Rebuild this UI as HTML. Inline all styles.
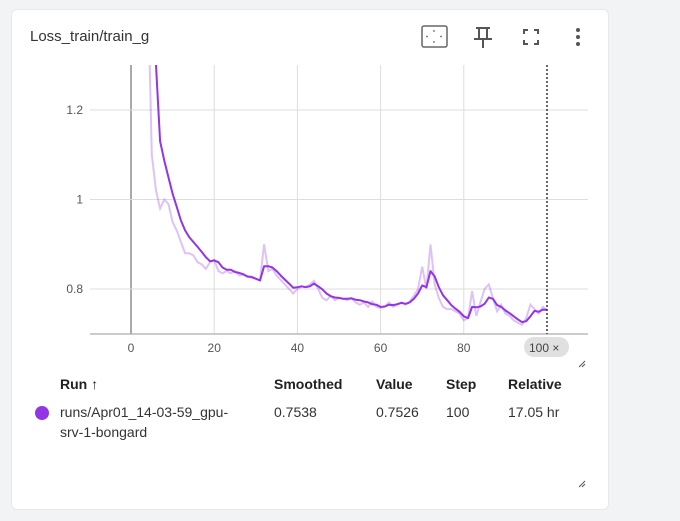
<!DOCTYPE html>
<html><head><meta charset="utf-8"><style>
body{margin:0;width:680px;height:521px;background:#f1f3f4;font-family:"Liberation Sans",sans-serif;position:relative;overflow:hidden}
.card{position:absolute;left:11px;top:9px;width:596px;height:499px;background:#fff;border-radius:6px;border:1px solid #e6e8ea}
.t{position:absolute;font-size:14px;color:#212121}
.h{position:absolute;font-size:14px;font-weight:bold;color:#212121;top:376px}
.c{position:absolute;font-size:14px;color:#333;top:404px}
</style></head><body>
<div class="card"></div>
<div class="t" style="left:30px;top:28px;font-size:15px;color:#333">Loss_train/train_g</div>
<svg style="position:absolute;left:0;top:0" width="680" height="521">
<g><rect x="422" y="26" width="25" height="21" fill="none" stroke="#666" stroke-width="1.5" rx="2"/><circle cx="434" cy="31" r="0.9" fill="#666"/><circle cx="434" cy="42" r="0.9" fill="#666"/><circle cx="427" cy="36.5" r="0.9" fill="#666"/><circle cx="441" cy="36.5" r="0.9" fill="#666"/></g>
<g stroke="#555" stroke-width="2" fill="none"><path d="M476 28h14M479 28v10M487 28v10M474 39h18M483 39v9"/></g>
<g stroke="#555" stroke-width="2" fill="none"><path d="M524 34v-4h4M534 30h4v4M538 40v4h-4M528 44h-4v-4"/></g>
<g fill="#555"><circle cx="578" cy="30" r="2"/><circle cx="578" cy="37" r="2"/><circle cx="578" cy="44" r="2"/></g>
</svg>
<svg id="chart" style="position:absolute;left:0;top:0" width="680" height="521"></svg>
<div class="h" style="left:60px">Run ↑</div>
<div class="h" style="left:274px">Smoothed</div>
<div class="h" style="left:376px">Value</div>
<div class="h" style="left:446px">Step</div>
<div class="h" style="left:508px">Relative</div>
<div style="position:absolute;left:35px;top:406px;width:14px;height:14px;border-radius:50%;background:#9334e6"></div>
<div class="c" style="left:60px;line-height:20px;top:402px">runs/Apr01_14-03-59_gpu-<br>srv-1-bongard</div>
<div class="c" style="left:274px">0.7538</div>
<div class="c" style="left:376px">0.7526</div>
<div class="c" style="left:446px">100</div>
<div class="c" style="left:508px">17.05 hr</div>
<script>
const steps=[];for(let i=4;i<=100;i++)steps.push(i);
const rawVals=[1.5,1.1,1.02,0.98,1.0,0.99,0.95,0.93,0.905,0.88,0.88,0.875,0.86,0.855,0.845,0.86,0.865,0.84,0.835,0.84,0.835,0.84,0.83,0.832,0.827,0.825,0.823,0.82,0.9,0.84,0.845,0.83,0.82,0.81,0.8,0.79,0.8,0.805,0.805,0.81,0.818,0.8,0.78,0.775,0.785,0.775,0.78,0.778,0.775,0.78,0.77,0.765,0.77,0.76,0.772,0.76,0.758,0.76,0.77,0.76,0.765,0.77,0.765,0.772,0.785,0.8,0.85,0.8,0.9,0.81,0.78,0.76,0.755,0.755,0.75,0.745,0.73,0.735,0.795,0.74,0.77,0.8,0.81,0.78,0.75,0.765,0.745,0.74,0.73,0.725,0.72,0.735,0.765,0.755,0.745,0.76,0.7526];
const smoothVals=[1.8,1.5,1.3,1.13,1.087,1.05,1.013,0.983,0.953,0.931,0.916,0.905,0.894,0.883,0.871,0.862,0.864,0.86,0.848,0.843,0.843,0.838,0.836,0.833,0.828,0.827,0.823,0.819,0.851,0.851,0.848,0.84,0.83,0.821,0.812,0.803,0.804,0.806,0.804,0.806,0.812,0.806,0.799,0.79,0.784,0.781,0.78,0.778,0.778,0.779,0.776,0.775,0.772,0.77,0.766,0.765,0.76,0.761,0.765,0.764,0.766,0.769,0.767,0.77,0.778,0.79,0.808,0.804,0.84,0.828,0.804,0.786,0.775,0.764,0.756,0.749,0.739,0.735,0.76,0.759,0.761,0.767,0.781,0.778,0.764,0.76,0.752,0.746,0.739,0.732,0.726,0.728,0.739,0.751,0.749,0.754,0.7538];
const xTicks=[0,20,40,60,80];
const yTicks=[0.8,1.0,1.2];
const yTickLabels=["0.8","1","1.2"];
const L=90,R=588,T=65,B=334;
const X=v=>131+v*4.16, Y=v=>289-(v-0.8)*447.5;
const svg=document.getElementById('chart'),NS='http://www.w3.org/2000/svg';
function mk(t,a,p){const e=document.createElementNS(NS,t);for(const k in a)e.setAttribute(k,a[k]);(p||svg).appendChild(e);return e;}
const defs=mk('defs',{});const cp=mk('clipPath',{id:'cp'},defs);mk('rect',{x:L,y:T,width:R-L,height:B-T},cp);
xTicks.forEach(v=>{const l=mk('line',{x1:X(v),x2:X(v),y1:T,y2:B,stroke:v===0?'#aaa':'#ddd','stroke-width':v===0?2:1});

const t=mk('text',{x:X(v),y:352,'text-anchor':'middle','font-size':12,fill:'#555','font-family':'Liberation Sans'});t.textContent=v;
});
yTicks.forEach((v,i)=>{const l=mk('line',{x1:L,x2:R,y1:Y(v),y2:Y(v),stroke:'#ddd'});

const t=mk('text',{x:83,y:Y(v)+4,'text-anchor':'end','font-size':12,fill:'#555','font-family':'Liberation Sans'});t.textContent=yTickLabels[i];
});
const ax=mk('line',{x1:L,x2:R,y1:B,y2:B,stroke:'#999'});
const pts=a=>a.map((v,i)=>X(steps[i]).toFixed(1)+','+Y(v).toFixed(1)).join(' ');
const g=mk('g',{'clip-path':'url(#cp)'});
const r=mk('polyline',{points:pts(rawVals),fill:'none',stroke:'#9334e6','stroke-opacity':0.3,'stroke-width':2},g);

const s=mk('polyline',{points:pts(smoothVals),fill:'none',stroke:'#9334e6','stroke-width':2,'stroke-linejoin':'round'},g);

const cur=mk('line',{x1:X(100),x2:X(100),y1:T,y2:B,stroke:'#333','stroke-dasharray':'2,2','stroke-width':1.5});

const bg=mk('rect',{x:524,y:337,width:45,height:20,rx:10,fill:'#e0e0e0'});

const bt=mk('text',{x:529,y:352,'font-size':12,fill:'#444','font-family':'Liberation Sans'});bt.textContent='100 ×';

[[583,364],[583,484]].forEach(p=>{const h=mk('path',{d:`M${p[0]-4} ${p[1]+3}l6-6M${p[0]-1} ${p[1]+3}l3-3`,stroke:'#555','stroke-width':1});
});
</script>
</body></html>
